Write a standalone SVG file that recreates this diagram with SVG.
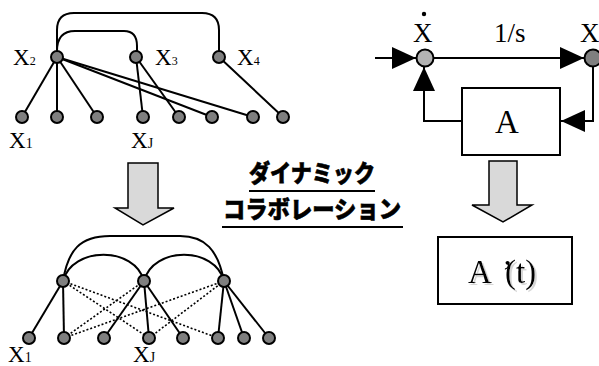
<svg xmlns="http://www.w3.org/2000/svg" width="599" height="366" viewBox="0 0 599 366">
  <style>
    .ln { fill: none; stroke: #000; stroke-width: 2; }
    .dot { fill: none; stroke: #000; stroke-width: 1.6; stroke-dasharray: 2 2; }
    .node { fill: #7f7f7f; stroke: #000; stroke-width: 2; }
    .lbl { font-family: "Liberation Serif", "Times New Roman", serif; fill: #000; }
    .jp { font-family: "Noto Sans CJK JP", sans-serif; font-weight: 900; font-size: 24px; fill: #000; stroke: #000; stroke-width: 0.6; }
    .big { fill: #d9d9d9; stroke: #000; stroke-width: 1.5; }
    .box { fill: #fff; stroke: #000; stroke-width: 2; }
  </style>
  <defs>
    <marker id="tri" viewBox="0 0 24 22" refX="24" refY="11" markerWidth="24" markerHeight="22" markerUnits="userSpaceOnUse" orient="auto">
      <path d="M0,0 L24,11 L0,22 Z" fill="#000"/>
    </marker>
    <filter id="shade" x="-10%" y="-10%" width="130%" height="130%">
      <feOffset in="SourceAlpha" dx="1.5" dy="1.5" result="off"/>
      <feColorMatrix in="off" type="matrix" values="0 0 0 0 0.6  0 0 0 0 0.6  0 0 0 0 0.6  0 0 0 0.8 0" result="grey"/>
      <feMerge>
        <feMergeNode in="grey"/>
        <feMergeNode in="SourceGraphic"/>
      </feMerge>
    </filter>
  </defs>

  <rect width="599" height="366" fill="#fff"/>

  <!-- static network: connectors -->
  <g id="connectors-top">
    <path class="ln" d="M57,51 V30 Q57,13 74,13 H202 Q219,13 219,30 V51"/>
    <path class="ln" d="M57,51 Q57,31 75,31 H124 Q137,31 137,46 V51"/>
    <line class="ln" x1="57" y1="57" x2="22" y2="117"/>
    <line class="ln" x1="57" y1="57" x2="57" y2="117"/>
    <line class="ln" x1="57" y1="57" x2="97" y2="117"/>
    <line class="ln" x1="57" y1="57" x2="212" y2="117"/>
    <line class="ln" x1="57" y1="57" x2="253" y2="117"/>
    <line class="ln" x1="136" y1="57" x2="143" y2="117"/>
    <line class="ln" x1="136" y1="57" x2="179" y2="117"/>
    <line class="ln" x1="219" y1="57" x2="283" y2="117"/>
  </g>
  <g id="nodes-top">
    <circle id="x2" class="node" cx="57" cy="57" r="6"/>
    <circle id="x3" class="node" cx="136" cy="57" r="6"/>
    <circle id="x4" class="node" cx="219" cy="57" r="6"/>
    <circle id="x1" class="node" cx="22" cy="117" r="6"/>
    <circle class="node" cx="57" cy="117" r="6"/>
    <circle class="node" cx="97" cy="117" r="6"/>
    <circle id="xj" class="node" cx="143" cy="117" r="6"/>
    <circle class="node" cx="179" cy="117" r="6"/>
    <circle class="node" cx="212" cy="117" r="6"/>
    <circle class="node" cx="253" cy="117" r="6"/>
    <circle class="node" cx="283" cy="117" r="6"/>
  </g>
  <g id="labels-top" class="lbl">
    <text x="13" y="65" font-size="23">X<tspan font-size="12">2</tspan></text>
    <text x="155" y="65" font-size="23">X<tspan font-size="12">3</tspan></text>
    <text x="237" y="65" font-size="23">X<tspan font-size="12">4</tspan></text>
    <text x="9" y="148" font-size="23">X<tspan font-size="14">1</tspan></text>
    <text x="131" y="148" font-size="23">X<tspan font-size="14">J</tspan></text>
  </g>

  <!-- dynamic network -->
  <g id="connectors-bottom">
    <path class="ln" d="M63,281 C68,250 80,236 110,236 H180 C205,236 218,250 224,281"/>
    <path class="ln" d="M63,281 C72,246 135,246 144,281"/>
    <path class="ln" d="M144,281 C153,246 215,246 224,281"/>
    <line class="ln" x1="63" y1="281" x2="29" y2="338"/>
    <line class="ln" x1="63" y1="281" x2="64" y2="338"/>
    <line class="ln" x1="144" y1="281" x2="104" y2="338"/>
    <line class="ln" x1="144" y1="281" x2="149" y2="338"/>
    <line class="ln" x1="144" y1="281" x2="183" y2="338"/>
    <line class="ln" x1="224" y1="281" x2="218" y2="338"/>
    <line class="ln" x1="224" y1="281" x2="244" y2="338"/>
    <line class="ln" x1="224" y1="281" x2="269" y2="338"/>
    <line class="dot" x1="63" y1="281" x2="149" y2="338"/>
    <line class="dot" x1="63" y1="281" x2="218" y2="338"/>
    <line class="dot" x1="144" y1="281" x2="64" y2="338"/>
    <line class="dot" x1="224" y1="281" x2="64" y2="338"/>
    <line class="dot" x1="224" y1="281" x2="149" y2="338"/>
  </g>
  <g id="nodes-bottom">
    <circle class="node" cx="63" cy="281" r="6"/>
    <circle class="node" cx="144" cy="281" r="6"/>
    <circle class="node" cx="224" cy="281" r="6"/>
    <circle class="node" cx="29" cy="338" r="6"/>
    <circle class="node" cx="64" cy="338" r="6"/>
    <circle class="node" cx="104" cy="338" r="6"/>
    <circle class="node" cx="149" cy="338" r="6"/>
    <circle class="node" cx="183" cy="338" r="6"/>
    <circle class="node" cx="218" cy="338" r="6"/>
    <circle class="node" cx="244" cy="338" r="6"/>
    <circle class="node" cx="269" cy="338" r="6"/>
  </g>
  <g id="labels-bottom" class="lbl">
    <text x="8" y="362" font-size="23">X<tspan font-size="14">1</tspan></text>
    <text x="133" y="362" font-size="23">X<tspan font-size="14">J</tspan></text>
  </g>

  <!-- transition arrows -->
  <g id="arrow-left">
    <path class="big" d="M128,163 H158 V208 H174 L143,225 L115,208 H128 Z"/>
  </g>
  <g id="arrow-right">
    <path class="big" d="M489,161 H517 V205 H532 L503,222 L472,205 H489 Z"/>
  </g>

  <!-- caption -->
  <g id="caption">
    <text class="jp" x="312" y="182" text-anchor="middle" textLength="126" lengthAdjust="spacingAndGlyphs">ダイナミック</text>
    <line x1="249" y1="191" x2="375" y2="191" stroke="#000" stroke-width="2"/>
    <text class="jp" x="312" y="218" text-anchor="middle" textLength="178" lengthAdjust="spacingAndGlyphs">コラボレーション</text>
    <line x1="222" y1="227" x2="403" y2="227" stroke="#000" stroke-width="2"/>
  </g>

  <!-- state-space loop -->
  <g id="loop-connectors">
    <line class="ln" x1="375" y1="58" x2="416" y2="58" marker-end="url(#tri)"/>
    <line class="ln" x1="434" y1="58" x2="584" y2="58" marker-end="url(#tri)"/>
    <polyline class="ln" points="593,66 593,121 561,121" marker-end="url(#tri)"/>
    <polyline class="ln" points="462,121 424,121 424,67" marker-end="url(#tri)"/>
  </g>
  <g id="sum">
    <circle cx="425" cy="58" r="8.5" fill="#b3b3b3" stroke="#000" stroke-width="2"/>
  </g>
  <g id="state">
    <circle cx="593" cy="58" r="8.5" fill="#7f7f7f" stroke="#000" stroke-width="2"/>
  </g>
  <g id="loop-labels" class="lbl">
    <text x="413" y="42" font-size="27">X</text>
    <circle cx="424" cy="14" r="2.2" fill="#000"/>
    <text x="494" y="42" font-size="27">1/s</text>
    <text x="580" y="42" font-size="27">X</text>
  </g>
  <g id="block-a">
    <rect class="box" x="462" y="88" width="98" height="67"/>
    <text class="lbl" x="507" y="133" font-size="33" text-anchor="middle">A</text>
  </g>

  <g id="block-at">
    <rect class="box" x="438" y="237" width="134" height="67"/>
    <text class="lbl" x="468" y="283" font-size="33" filter="url(#shade)">A<tspan x="502">’</tspan><tspan dx="-8">(t)</tspan></text>
  </g>
</svg>
